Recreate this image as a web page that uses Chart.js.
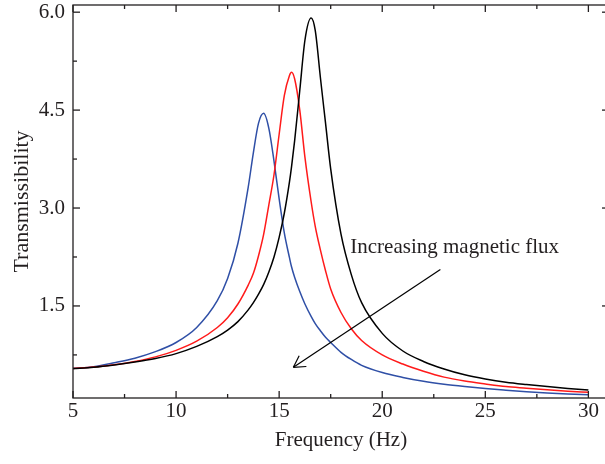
<!DOCTYPE html>
<html lang="en">
<head>
<meta charset="UTF-8">
<title>Transmissibility</title>
<style>
  html, body { margin: 0; padding: 0; overflow: hidden; background: #fff; }
  #wrap { width: 609px; height: 464px; }
</style>
</head>
<body>
<div id="wrap"><canvas id="myChart" width="609" height="464"></canvas></div>

<script src="https://cdn.jsdelivr.net/npm/chart.js"></script>
<script>
// frequency points (Hz)
const freq = [5, 6, 7, 8, 9, 10, 11, 12, 12.5, 13, 13.5, 13.75, 14, 14.25, 14.5, 14.75,
  15, 15.25, 15.5, 15.6, 15.75, 16, 16.25, 16.55, 16.75, 17, 17.25, 17.5, 18, 18.5, 19,
  20, 21, 22, 23, 24, 25, 26, 27, 28, 29, 30];

// transmissibility for each curve
const blueT = [0.54, 0.57, 0.63, 0.70, 0.80, 0.94, 1.17, 1.58, 1.92, 2.46, 3.32, 3.85, 4.30, 4.45, 4.22, 3.72,
  3.14, 2.62, 2.24, 2.10, 1.94, 1.72, 1.53, 1.34, 1.23, 1.12, 1.02, 0.94, 0.79, 0.68, 0.59,
  0.48, 0.405, 0.345, 0.30, 0.265, 0.235, 0.21, 0.187, 0.168, 0.153, 0.14];
const redT = [0.54, 0.565, 0.60, 0.65, 0.72, 0.82, 0.96, 1.17, 1.32, 1.53, 1.82, 2.00, 2.27, 2.60, 3.05, 3.51,
  4.13, 4.72, 5.03, 5.08, 4.98, 4.50, 3.78, 3.10, 2.72, 2.36, 2.04, 1.76, 1.40, 1.15, 0.97,
  0.75, 0.61, 0.50, 0.41, 0.35, 0.305, 0.265, 0.24, 0.215, 0.195, 0.178];
const blackT = [0.54, 0.56, 0.595, 0.64, 0.695, 0.77, 0.88, 1.03, 1.13, 1.26, 1.44, 1.55, 1.68, 1.83, 2.02, 2.25,
  2.55, 2.92, 3.40, 3.63, 4.03, 4.80, 5.57, 5.91, 5.72, 5.00, 4.30, 3.60, 2.60, 1.98, 1.55,
  1.08, 0.81, 0.65, 0.535, 0.445, 0.38, 0.33, 0.295, 0.265, 0.237, 0.213];

const xTicks = [5, 10, 15, 20, 25, 30];
const xMinor = [7.5, 12.5, 17.5, 22.5, 27.5];
const yTicks = [1.5, 3.0, 4.5, 6.0];
const yMinor = [0.75, 2.25, 3.75, 5.25];

const noteText = 'Increasing magnetic flux';
const notePos = { x: 18.45, y: 2.39 };
const arrowFrom = { x: 22.82, y: 2.06 };
const arrowTo = { x: 15.69, y: 0.56 };

const serif = "'Liberation Serif', 'DejaVu Serif', serif";
const ink = '#231f20';

function pts(vals) {
  return freq.map((f, i) => ({ x: f, y: vals[i] }));
}

// box, inward ticks and the arrow note
const framePlugin = {
  id: 'frame',
  afterDraw(chart) {
    const { ctx, chartArea: a, scales: { x, y } } = chart;
    ctx.save();
    ctx.strokeStyle = ink;
    ctx.lineWidth = 1.3;
    ctx.strokeRect(a.left, a.top, a.right - a.left, a.bottom - a.top);

    function seg(x1, y1, x2, y2) {
      ctx.beginPath();
      ctx.moveTo(x1, y1);
      ctx.lineTo(x2, y2);
      ctx.stroke();
    }
    xTicks.forEach(v => {
      const px = x.getPixelForValue(v);
      seg(px, a.bottom, px, a.bottom - 7);
      seg(px, a.top, px, a.top + 7);
    });
    xMinor.forEach(v => {
      const px = x.getPixelForValue(v);
      seg(px, a.bottom, px, a.bottom - 4);
      seg(px, a.top, px, a.top + 4);
    });
    yTicks.forEach(v => {
      const py = y.getPixelForValue(v);
      seg(a.left, py, a.left + 7, py);
      seg(a.right, py, a.right - 7, py);
    });
    yMinor.forEach(v => {
      const py = y.getPixelForValue(v);
      seg(a.left, py, a.left + 4, py);
      seg(a.right, py, a.right - 4, py);
    });

    // note + arrow
    ctx.fillStyle = ink;
    ctx.font = '21px ' + serif;
    ctx.textAlign = 'left';
    ctx.textBaseline = 'middle';
    ctx.fillText(noteText, x.getPixelForValue(notePos.x), y.getPixelForValue(notePos.y));

    const x1 = x.getPixelForValue(arrowFrom.x), y1 = y.getPixelForValue(arrowFrom.y);
    const x2 = x.getPixelForValue(arrowTo.x), y2 = y.getPixelForValue(arrowTo.y);
    ctx.strokeStyle = '#000';
    ctx.lineWidth = 1.2;
    seg(x1, y1, x2, y2);
    const ang = Math.atan2(y2 - y1, x2 - x1);
    const len = 13, spread = Math.PI / 6;
    seg(x2, y2, x2 - len * Math.cos(ang - spread), y2 - len * Math.sin(ang - spread));
    seg(x2, y2, x2 - len * Math.cos(ang + spread), y2 - len * Math.sin(ang + spread));
    ctx.restore();
  }
};

const ctx = document.getElementById('myChart');

new Chart(ctx, {
  type: 'line',
  data: {
    datasets: [
      { label: 'black', data: pts(blackT), borderColor: '#000000' },
      { label: 'red', data: pts(redT), borderColor: '#ff1a1a' },
      { label: 'blue', data: pts(blueT), borderColor: '#2f4fa6' }
    ]
  },
  options: {
    responsive: false,
    animation: false,
    devicePixelRatio: 1,
    layout: { padding: { top: 5, right: 0, left: 0, bottom: 0 } },
    elements: {
      point: { radius: 0 },
      line: { borderWidth: 1.5, cubicInterpolationMode: 'monotone', fill: false }
    },
    plugins: {
      legend: { display: false },
      tooltip: { enabled: false }
    },
    scales: {
      x: {
        type: 'linear',
        min: 5,
        max: 31,
        afterBuildTicks: s => { s.ticks = xTicks.map(v => ({ value: v })); },
        afterFit: s => { s.height = 66; s.paddingLeft = 0; s.paddingRight = 0; },
        grid: { display: false, drawTicks: false },
        border: { display: false },
        ticks: {
          color: ink,
          font: { family: serif, size: 21 },
          padding: 1,
          maxRotation: 0,
          autoSkip: false,
          callback: v => v
        },
        title: {
          display: true,
          text: 'Frequency (Hz)',
          color: ink,
          font: { family: serif, size: 21 },
          padding: { top: 11, bottom: 11 }
        }
      },
      y: {
        min: 0.09,
        max: 6.11,
        afterBuildTicks: s => { s.ticks = yTicks.map(v => ({ value: v })); },
        afterFit: s => { s.width = 73; s.paddingTop = 0; s.paddingBottom = 0; },
        grid: { display: false, drawTicks: false },
        border: { display: false },
        ticks: {
          color: ink,
          font: { family: serif, size: 21 },
          padding: 8,
          autoSkip: false,
          callback: v => v.toFixed(1)
        },
        title: {
          display: true,
          text: 'Transmissibility',
          color: ink,
          font: { family: serif, size: 22 },
          padding: { top: 9, bottom: 9 }
        }
      }
    }
  },
  plugins: [framePlugin]
});
</script>
</body>
</html>
